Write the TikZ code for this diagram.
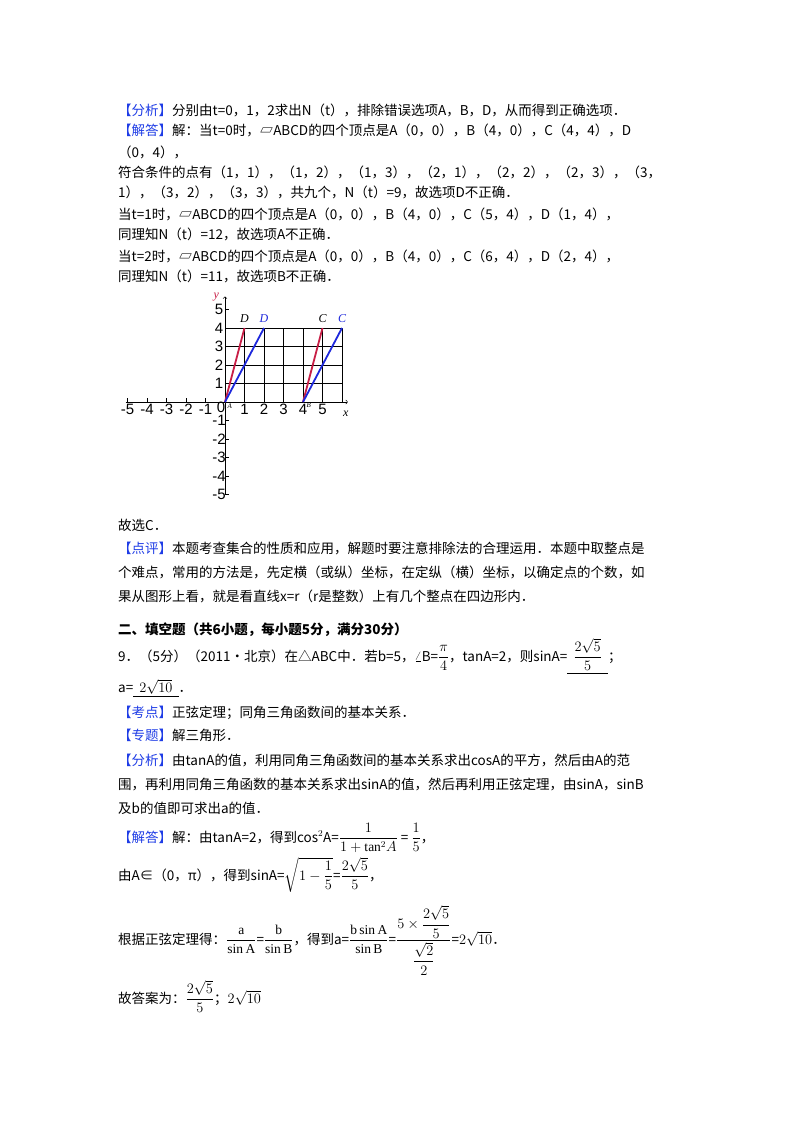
\documentclass[tikz,border=0pt]{standalone}
\usepackage{fontspec}
\usepackage{amsmath}
\setmainfont{Liberation Serif}
\newfontfamily\cjk{Noto Sans CJK SC}
\newfontfamily\axf{Liberation Sans}
\definecolor{tagblue}{RGB}{30,60,230}
\definecolor{redl}{RGB}{200,30,70}
\definecolor{bluel}{RGB}{30,40,220}
\newcommand{\tg}[1]{{\color{tagblue}【#1】}}
\begin{document}
\begin{tikzpicture}[x=1pt,y=-1pt,
  ln/.style={anchor=base west,inner sep=0pt,font=\cjk\fontsize{13.5}{16}\selectfont},
  tick/.style={font=\axf\fontsize{15}{16}\selectfont,inner sep=1pt}]
\useasboundingbox (0,0) rectangle (800,1132);
\fill[white] (0,0) rectangle (800,1132);
\node[ln] (l1) at (118,115) {\tg{分析}分别由t=0，1，2求出N（t），排除错误选项A，B，D，从而得到正确选项．};
\node[ln] (l2) at (118,135) {\tg{解答}解：当t=0时，▱ABCD的四个顶点是A（0，0），B（4，0），C（4，4），D};
\node[ln] (l3) at (118,157) {（0，4），};
\node[ln] (l4) at (118,177) {符合条件的点有（1，1），（1，2），（1，3），（2，1），（2，2），（2，3），（3，};
\node[ln] (l5) at (118,197) {1），（3，2），（3，3），共九个，N（t）=9，故选项D不正确．};
\node[ln] (l6) at (118,219) {当t=1时，▱ABCD的四个顶点是A（0，0），B（4，0），C（5，4），D（1，4），};
\node[ln] (l7) at (118,239) {同理知N（t）=12，故选项A不正确．};
\node[ln] (l8) at (118,261) {当t=2时，▱ABCD的四个顶点是A（0，0），B（4，0），C（6，4），D（2，4），};
\node[ln] (l9) at (118,281) {同理知N（t）=11，故选项B不正确．};
% graph
\begin{scope}[shift={(225,402)},x=19.5pt,y=18.5pt]
\foreach \i in {1,...,6} \draw[thick] (\i,0) -- (\i,4);
\foreach \j in {1,...,4} \draw[thick] (0,\j) -- (6,\j);
\draw[->,semithick] (-5.1,0) -- (6.3,0);
\draw[->,semithick] (0,-5) -- (0,5.7);
\foreach \i in {-5,...,-1} {\draw (\i,0) -- (\i,0.2); \node[tick] (tx\i) at (\i,-0.4) {\i};}
\foreach \i in {1,...,5} {\node[tick] (tx\i) at (\i,-0.4) {\i};}
\foreach \i in {-5,...,-1} {\draw (0,\i) -- (0.2,\i); \node[tick] (ty\i) at (-0.3,\i) {\i};}
\foreach \i in {1,...,5} {\draw (0,\i) -- (0.2,\i); \node[tick] (ty\i) at (-0.3,\i) {\i};}
\node[tick] (o) at (-0.2,-0.3) {0};
\node[font=\itshape\scriptsize] (la) at (0.25,-0.2) {A};
\node[font=\itshape\scriptsize] (lb) at (4.3,-0.15) {B};
\node[font=\itshape\large] (lx) at (6.2,-0.65) {x};
\node[font=\itshape\large,text=redl] (ly) at (-0.45,5.7) {y};
\coordinate (A) at (0,0); \coordinate (B) at (4,0);
\coordinate (D1) at (1,4); \coordinate (D2) at (2,4);
\coordinate (C1) at (5,4); \coordinate (C2) at (6,4);
\draw[redl,line width=1.8pt] (A) -- (D1); \draw[redl,line width=1.8pt] (B) -- (C1);
\draw[bluel,line width=1.8pt] (A) -- (D2); \draw[bluel,line width=1.8pt] (B) -- (C2);
\node[font=\itshape\large] (dl1) at (1,4.5) {D};
\node[font=\itshape\large,text=bluel] (dl2) at (2,4.5) {D};
\node[font=\itshape\large] (cl1) at (5,4.5) {C};
\node[font=\itshape\large,text=bluel] (cl2) at (6,4.5) {C};
\end{scope}
\node[ln] (m1) at (118,530) {故选C．};
\node[ln] (m2) at (118,553) {\tg{点评}本题考查集合的性质和应用，解题时要注意排除法的合理运用．本题中取整点是};
\node[ln] (m3) at (118,577) {个难点，常用的方法是，先定横（或纵）坐标，在定纵（横）坐标，以确定点的个数，如};
\node[ln] (m4) at (118,601) {果从图形上看，就是看直线x=r（r是整数）上有几个整点在四边形内．};
\node[ln,font=\cjk\bfseries\fontsize{13.5}{16}\selectfont] (h) at (118,634) {二、填空题（共6小题，每小题5分，满分30分）};
\node[ln] (q1) at (118,661) {9．（5分）（2011•北京）在△ABC中．若b=5，$\angle$B=$\dfrac{\pi}{4}$，tanA=2，则sinA=\underline{\ \ $\dfrac{2\sqrt5}{5}$\ \ }；};
\node[ln] (q2) at (118,692) {a=\underline{\ \ $2\sqrt{10}$\ \ }．};
\node[ln] (k1) at (118,717) {\tg{考点}正弦定理；同角三角函数间的基本关系．};
\node[ln] (k2) at (118,740) {\tg{专题}解三角形．};
\node[ln] (k3) at (118,765) {\tg{分析}由tanA的值，利用同角三角函数间的基本关系求出cosA的平方，然后由A的范};
\node[ln] (k4) at (118,789) {围，再利用同角三角函数的基本关系求出sinA的值，然后再利用正弦定理，由sinA，sinB};
\node[ln] (k5) at (118,813) {及b的值即可求出a的值．};
\node[ln] (s1) at (118,842) {\tg{解答}解：由tanA=2，得到cos$^2$A=$\dfrac{1}{1+\tan^2\!A}$ = $\dfrac15$，};
\node[ln] (s2) at (118,880) {由A∈（0，π），得到sinA=$\sqrt{1-\dfrac15}$=$\dfrac{2\sqrt5}{5}$，};
\node[ln] (s3) at (118,944) {根据正弦定理得：$\dfrac{\mathrm a}{\sin\mathrm A}$=$\dfrac{\mathrm b}{\sin\mathrm B}$，得到a=$\dfrac{\mathrm{b}\sin\mathrm A}{\sin\mathrm B}$=$\dfrac{5\times\dfrac{2\sqrt5}{5}}{\dfrac{\sqrt2}{2}}$=$2\sqrt{10}$．};
\node[ln] (s4) at (118,1003) {故答案为：$\dfrac{2\sqrt5}{5}$；$2\sqrt{10}$};
\end{tikzpicture}
\end{document}
